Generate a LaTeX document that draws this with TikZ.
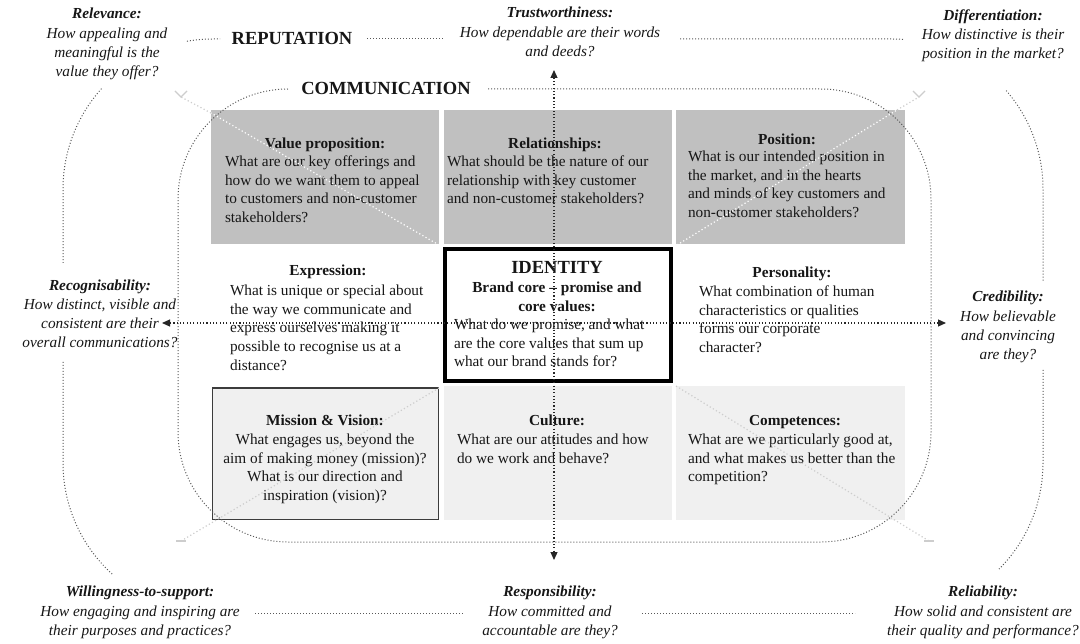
\documentclass[tikz,border=0pt]{standalone}
\usepackage{fontspec}
\setmainfont{Liberation Serif}
\usetikzlibrary{arrows.meta}
\definecolor{cellgray}{HTML}{C0C0C0}
\definecolor{cellpale}{HTML}{F0F0F0}
\definecolor{framegray}{HTML}{585858}
\definecolor{boxedge}{HTML}{3C3C3C}
\definecolor{ink}{HTML}{161616}
\definecolor{faint}{HTML}{CDCDCD}
\begin{document}
\begin{tikzpicture}[x=1pt,y=-1pt,
  every node/.style={inner sep=0pt, outer sep=0pt, text=ink},
  tile/.style={anchor=north west, minimum height=134pt},
  bodytext/.style={font=\fontsize{15.3}{18.6}\selectfont, align=left, anchor=north west},
  headtext/.style={font=\fontsize{15.3}{18.6}\selectfont\bfseries, anchor=base},
  asktext/.style={font=\fontsize{15.3}{19.2}\selectfont\itshape, align=center},
  bigtitle/.style={font=\fontsize{18.5}{20}\selectfont\bfseries, anchor=base},
  framedots/.style={draw=framegray, line width=1pt, dash pattern=on 1pt off 2pt},
  axisdots/.style={draw=black!85, line width=1.2pt, dash pattern=on 1.1pt off 2.2pt, -{Triangle[width=7pt,length=8pt]}},
  whitedots/.style={draw=white, line width=1.2pt, dash pattern=on 1.2pt off 2.4pt},
  faintdots/.style={draw=faint, line width=1.2pt, dash pattern=on 1.2pt off 2.4pt},
  faintmark/.style={draw=faint, line width=1.2pt},
]
\useasboundingbox (0,0) rectangle (1080,644);

% ---- the nine tiles of the identity prism ----
\node[tile, fill=cellgray, minimum width=228pt] (valueprop) at (211,110) {};
\node[tile, fill=cellgray, minimum width=228pt] (relationships) at (444,110) {};
\node[tile, fill=cellgray, minimum width=229pt] (position) at (676,110) {};
\node[tile, fill=cellpale, minimum width=228pt] (culture) at (444,386) {};
\node[tile, fill=cellpale, minimum width=229pt] (competences) at (676,386) {};
\node[tile, fill=cellpale, draw=boxedge, line width=1.6pt, minimum width=226pt, minimum height=131.5pt] (mission) at (212.5,388) {};
\node[tile, fill=white, draw=black, line width=4pt, minimum width=226pt, minimum height=132pt] (identity) at (445,249) {};

% ---- outer reputation frame, broken where the questions sit ----
\draw[framedots] ([shift={(222:150)}]213,189) arc[start angle=222, end angle=180, radius=150] -- (63,263);
\draw[framedots] (63,362) -- (63,463) arc[start angle=180, end angle=132, radius=150];
\draw[framedots] ([shift={(260:150)}]213,189) arc[start angle=260, end angle=270, radius=150] -- (220,39);
\draw[framedots] (367,39) -- (443,39);
\draw[framedots] (680,39) -- (893,39) arc[start angle=270, end angle=274, radius=150];
\draw[framedots] ([shift={(319:150)}]893,189) arc[start angle=319, end angle=360, radius=150] -- (1043,282);
\draw[framedots] (1043,370) -- (1043,463) arc[start angle=0, end angle=45, radius=150];
\draw[framedots] (255,613) -- (463,613);
\draw[framedots] (642,613) -- (855,613);

% ---- communication frame ----
\draw[framedots] (288,89) arc[start angle=270, end angle=180, radius=110] -- (178,432)
  arc[start angle=180, end angle=90, radius=110] -- (821,542)
  arc[start angle=90, end angle=0, radius=110] -- (931,199)
  arc[start angle=0, end angle=-90, radius=110] -- (488,89);

% ---- titles ----
\node[bigtitle] (reputation) at (292,45) {REPUTATION};
\node[bigtitle] (communication) at (386,95) {COMMUNICATION};

% ---- questions around the frame ----
\node[asktext] (relevance) at (107,44) {\textbf{Relevance:}\\How appealing and\\meaningful is the\\value they offer?};
\node[asktext] (trust) at (560,32) {\textbf{Trustworthiness:}\\How dependable are their words\\and deeds?};
\node[asktext] (differ) at (993,36) {\textbf{Differentiation:}\\How distinctive is their\\position in the market?};
\node[asktext] (recog) at (100,314) {\textbf{Recognisability:}\\How distinct, visible and\\consistent are their\\overall communications?};
\node[asktext] (cred) at (1008,327) {\textbf{Credibility:}\\How believable\\and convincing\\are they?};
\node[asktext] (willing) at (140,612.5) {\textbf{Willingness-to-support:}\\How engaging and inspiring are\\their purposes and practices?};
\node[asktext] (respons) at (550,612.5) {\textbf{Responsibility:}\\How committed and\\accountable are they?};
\node[asktext] (reliab) at (983,612.5) {\textbf{Reliability:}\\How solid and consistent are\\their quality and performance?};

% ---- tile texts ----
\node[headtext] (vpHead) at (325,148.5) {Value proposition:};
\node[bodytext] (vpBody) at (225,156) {What are our key offerings and\\how do we want them to appeal\\to customers and non-customer\\stakeholders?};

\node[headtext] (relHead) at (555,148.5) {Relationships:};
\node[bodytext] (relBody) at (447,156) {What should be the nature of our\\relationship with key customer\\and non-customer stakeholders?};

\node[headtext] (posHead) at (787,144.5) {Position:};
\node[bodytext] (posBody) at (688,151) {What is our intended position in\\the market, and in the hearts\\and minds of key customers and\\non-customer stakeholders?};

\node[headtext] (expHead) at (328,275.5) {Expression:};
\node[bodytext] (expBody) at (230,285) {What is unique or special about\\the way we communicate and\\express ourselves making it\\possible to recognise us at a\\distance?};

\node[bigtitle] (idHead) at (557,274) {IDENTITY};
\node[headtext] (idSub1) at (557,292.5) {Brand core – promise and};
\node[headtext] (idSub2) at (557,311.5) {core values:};
\node[bodytext] (idBody) at (454,319) {What do we promise, and what\\are the core values that sum up\\what our brand stands for?};

\node[headtext] (perHead) at (792,277.5) {Personality:};
\node[bodytext] (perBody) at (699,286) {What combination of human\\characteristics or qualities\\forms our corporate\\character?};

\node[headtext] (misHead) at (325,425.5) {Mission \& Vision:};
\node[bodytext, align=center, anchor=north] (misBody) at (325,434) {What engages us, beyond the\\aim of making money (mission)?\\What is our direction and\\inspiration (vision)?};

\node[headtext] (culHead) at (557,425.5) {Culture:};
\node[bodytext] (culBody) at (457,434) {What are our attitudes and how\\do we work and behave?};

\node[headtext] (comHead) at (795,425.5) {Competences:};
\node[bodytext] (comBody) at (688,434) {What are we particularly good at,\\and what makes us better than the\\competition?};

% ---- the two axes through the core ----
\coordinate (hub) at (554,323);
\coordinate (upTip) at (554,70);
\coordinate (downTip) at (554,560);
\coordinate (leftTip) at (162,323);
\coordinate (rightTip) at (946,323);
\draw[axisdots] (hub) -- (upTip);
\draw[axisdots] (hub) -- (downTip);
\draw[axisdots] (hub) -- (leftTip);
\draw[axisdots] (hub) -- (rightTip);

% ---- faint diagonals from the core to the corners ----
\coordinate (tlCorner) at (439,245);
\coordinate (tlEdge) at (211,113);
\coordinate (tlMark) at (181,97);
\coordinate (trCorner) at (677,245);
\coordinate (trEdge) at (897,110);
\coordinate (trMark) at (919,97);
\coordinate (blCorner) at (439,388);
\coordinate (blMark) at (181,541);
\coordinate (brCorner) at (676,386);
\coordinate (brMark) at (929,541);
\draw[whitedots] (tlCorner) -- (tlEdge);
\draw[faintdots] (tlEdge) -- (tlMark);
\draw[whitedots] (trCorner) -- (trEdge);
\draw[faintdots] (trEdge) -- (trMark);
\draw[faintdots] (blCorner) -- (blMark);
\draw[faintdots] (brCorner) -- (brMark);
\draw[faintmark] ([shift={(-6,-6)}]tlMark) -- (tlMark) -- ([shift={(6,-6)}]tlMark);
\draw[faintmark] ([shift={(-6,-6)}]trMark) -- (trMark) -- ([shift={(6,-6)}]trMark);
\draw[faintmark] ([shift={(-5,0)}]blMark) -- ([shift={(5,0)}]blMark);
\draw[faintmark] ([shift={(-5,0)}]brMark) -- ([shift={(5,0)}]brMark);
\end{tikzpicture}
\end{document}
